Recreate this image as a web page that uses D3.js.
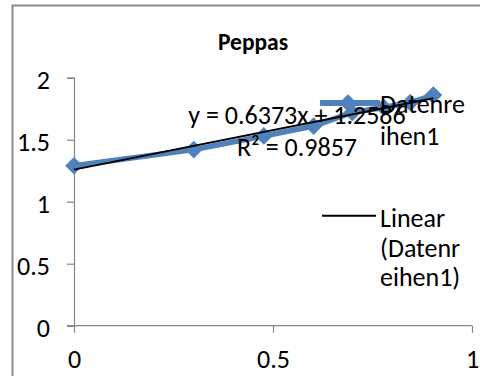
<!DOCTYPE html>
<html>
<head>
<meta charset="utf-8">
<script src="https://cdn.jsdelivr.net/npm/d3@7"></script>
<style>
  body { margin: 0; background: #fff; }
  svg { display: block; font-family: Carlito, Calibri, Lato, sans-serif; }
</style>
</head>
<body>
<div id="chart"></div>
<script>
// data
var xVals = [0, 0.301, 0.477, 0.602, 0.699, 0.778, 0.845, 0.903];
var yVals = [1.29, 1.42, 1.53, 1.61, 1.72, 1.76, 1.80, 1.86];
var slope = 0.6373, intercept = 1.2586;
var xTicks = [0, 0.5, 1];
var yTicks = [0, 0.5, 1, 1.5, 2];
var title = "Peppas";
var eqLines = ["y = 0.6373x + 1.2586", "R² = 0.9857"];
var legendSeries = ["Datenre", "ihen1"];
var legendTrend = ["Linear", "(Datenr", "eihen1)"];

var w = 480, h = 376, fs = "26px";
var blue = "#4F81BD", axisCol = "#868686";

var svg = d3.select("#chart").append("svg")
    .attr("width", w)
    .attr("height", h);

// outer chart border
svg.append("rect")
    .attr("x", 12.5).attr("y", 5.5)
    .attr("width", 500).attr("height", 400)
    .attr("fill", "none")
    .attr("stroke", "#898989")
    .attr("stroke-width", 2);

var x = d3.scaleLinear().domain([0, 1]).range([74, 472]),
    y = d3.scaleLinear().domain([0, 2]).range([325.7, 77.7]);

svg.append("text")
    .attr("x", 253).attr("y", 50)
    .attr("text-anchor", "middle")
    .style("font-weight", "bold")
    .style("font-size", "23.5px")
    .text(title);

// axes
var yAxis = svg.append("g")
    .attr("transform", "translate(74,0)")
    .call(d3.axisLeft(y).tickValues(yTicks).tickSize(7).tickPadding(17)
        .tickFormat(d3.format("")));
var xAxis = svg.append("g")
    .attr("transform", "translate(0,325.7)")
    .call(d3.axisBottom(x).tickValues(xTicks).tickSize(7).tickPadding(17)
        .tickFormat(d3.format("")));

[yAxis, xAxis].forEach(function(a){
  a.select(".domain").attr("stroke", axisCol).attr("stroke-width", 1.2);
  a.selectAll(".tick line").attr("stroke", axisCol).attr("stroke-width", 1.2);
  a.selectAll(".tick text")
    .attr("fill", "#000")
    .style("font-size", fs)
    .style("font-family", "Carlito, Calibri, Lato, sans-serif");
});
yAxis.selectAll(".tick text").attr("dy", "0.4em");
// extend x axis line to the left like Excel
xAxis.select(".domain").attr("d", "M" + (x(0) - 7) + ",0H" + x(1));

var pts = xVals.map(function(d, i){ return {x: d, y: yVals[i]}; });

var line = d3.line()
    .x(function(d){ return x(d.x); })
    .y(function(d){ return y(d.y); });

svg.append("path")
    .datum(pts)
    .attr("d", line)
    .attr("fill", "none")
    .attr("stroke", blue)
    .attr("stroke-width", 5.5)
    .attr("stroke-linejoin", "round");

var diamond = d3.symbol().type(d3.symbolDiamond2).size(200);
svg.selectAll(".pt")
    .data(pts)
    .enter().append("path")
    .attr("class", "pt")
    .attr("transform", function(d){ return "translate(" + x(d.x) + "," + y(d.y) + ")"; })
    .attr("d", diamond)
    .attr("fill", blue);

// trend line over data range
var xr = d3.extent(xVals);
svg.append("path")
    .datum(xr.map(function(v){ return {x: v, y: slope * v + intercept}; }))
    .attr("d", line)
    .attr("fill", "none")
    .attr("stroke", "#000")
    .attr("stroke-width", 2);

// legend
svg.append("line")
    .attr("x1", 320).attr("x2", 380).attr("y1", 103).attr("y2", 103)
    .attr("stroke", blue).attr("stroke-width", 6);
svg.append("path")
    .attr("transform", "translate(348,103)")
    .attr("d", diamond)
    .attr("fill", blue);
legendSeries.forEach(function(t, i){
  svg.append("text")
      .attr("x", 380).attr("y", 113 + i * 32)
      .style("font-size", fs)
      .text(t);
});
svg.append("line")
    .attr("x1", 322).attr("x2", 376).attr("y1", 215.7).attr("y2", 215.7)
    .attr("stroke", "#000").attr("stroke-width", 2);
legendTrend.forEach(function(t, i){
  svg.append("text")
      .attr("x", 380).attr("y", 227 + i * 29.6)
      .style("font-size", fs)
      .text(t);
});

// equation label
eqLines.forEach(function(t, i){
  svg.append("text")
      .attr("x", 297).attr("y", 124 + i * 32)
      .attr("text-anchor", "middle")
      .style("font-size", fs)
      .text(t);
});
</script>
</body>
</html>
